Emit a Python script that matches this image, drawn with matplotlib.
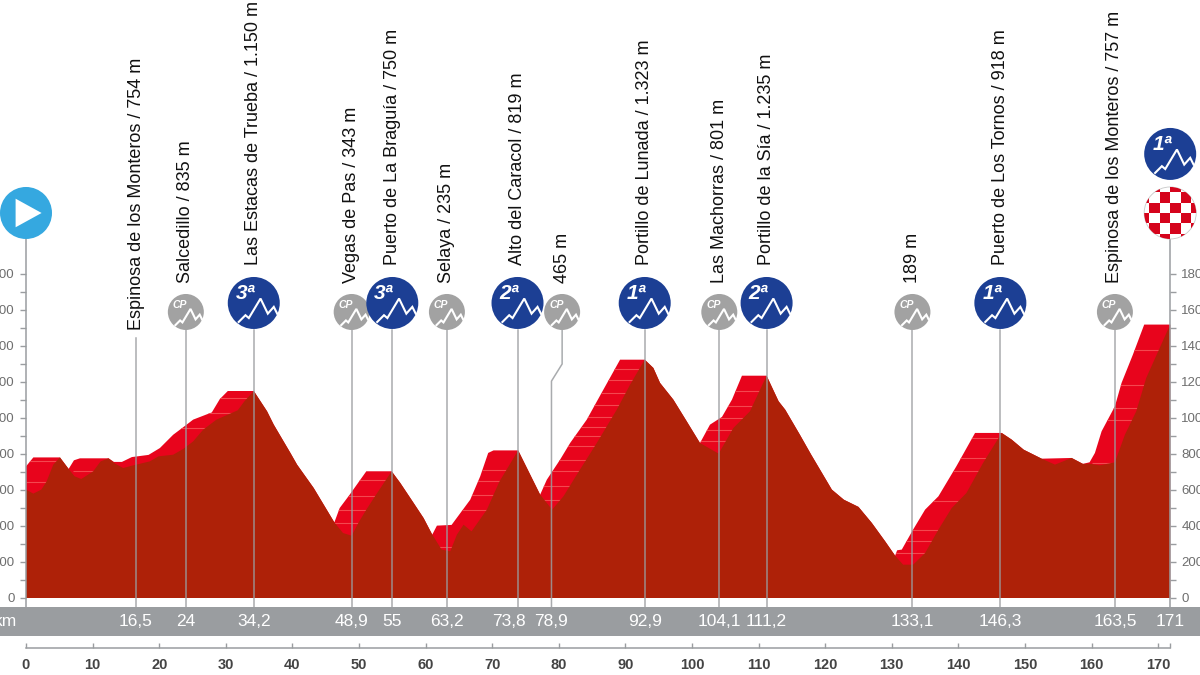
import matplotlib
matplotlib.use("Agg")
import matplotlib.pyplot as plt
from matplotlib.patches import Circle, Polygon, Rectangle
from matplotlib.transforms import Affine2D, ScaledTranslation

# profile outline (bright red climbs show between this and the base line)
top_km = [0, 1.1, 5.1, 6.4, 7.2, 8.1, 12.4, 13.2, 14.4, 15.9, 18.4, 20.1, 22.1, 23.9, 25.1, 27.9, 29.1,
          30.3, 34.2, 36.2, 37.2, 39.7, 40.7, 43.2, 46.3, 47.1, 48.6, 51.1, 54.9, 56.2, 58.2, 59.7, 61,
          61.7, 63.9, 65.4, 66.7, 68.2, 69.4, 70.2, 73.9, 77.2, 78.2, 80.2, 81.7, 84.2, 86.7, 89.2, 92.9,
          94.2, 95.2, 97.2, 99.2, 101.2, 102.7, 104.5, 106, 107.5, 111.2, 113, 114, 116.2, 117.9, 121,
          122.8, 125, 127, 129, 130.5, 130.8, 131.5, 133.2, 135, 137, 139.7, 142.5, 146.5, 148, 149.8,
          152.5, 157, 158.7, 159.7, 160.5, 161.5, 163.5, 164.5, 166.2, 167.9, 171.8]
top_m = [731, 781, 781, 717, 765, 776, 776, 756, 756, 783, 795, 833, 907, 957, 991, 1031, 1105,
         1150, 1150, 1037, 963, 806, 741, 611, 420, 500, 574, 704, 704, 639, 528, 444, 352,
         402, 406, 481, 546, 676, 806, 820, 820, 574, 657, 769, 861, 991, 1158, 1324, 1324,
         1278, 1195, 1102, 982, 861, 963, 1006, 1102, 1235, 1235, 1093, 1046, 907, 796, 602,
         546, 506, 417, 315, 235, 265, 269, 380, 491, 565, 732, 917, 917, 880, 824,
         774, 778, 745, 754, 806, 926, 1065, 1195, 1352, 1519, 1519]

base_km = [0, 1.1, 2.3, 3.1, 4.1, 5.1, 6.4, 7.3, 8.3, 10.1, 11.2, 12.4, 13.4, 14.6, 15.9, 18.6, 19.9, 22.1,
           23.6, 25.1, 26.6, 28.6, 31.8, 32.8, 34.2, 36.2, 37.2, 39.7, 40.7, 43.2, 46.3, 47.6, 48.9, 49.9,
           51.1, 52.4, 54.9, 56.2, 58.2, 59.7, 61, 62.4, 63.7, 64.7, 65.7, 66.9, 69.2, 71.1, 73.9, 77.2,
           79, 80.7, 82.7, 85.7, 88.7, 90.7, 92.9, 94.2, 95.2, 97.2, 99.2, 101.2, 104, 106.2, 108.7, 111.2,
           113, 114, 116.2, 117.9, 121, 122.8, 125, 127, 129, 130.5, 131.7, 133.2, 135, 137, 139, 141.2,
           143.7, 146.5, 148, 149.8, 152.5, 154.5, 157, 158.7, 159.7, 161.2, 163.5, 165, 166.7, 168.2, 171.8]
base_m = [602, 580, 602, 648, 741, 781, 717, 676, 661, 704, 759, 776, 746, 722, 735, 759, 787, 796,
          828, 870, 935, 991, 1043, 1093, 1150, 1037, 963, 806, 741, 611, 420, 361, 346, 417,
          491, 565, 704, 639, 528, 444, 352, 269, 259, 352, 407, 370, 491, 648, 820, 574,
          491, 565, 685, 861, 1046, 1185, 1324, 1278, 1195, 1102, 982, 861, 802, 944, 1037, 1235,
          1093, 1046, 907, 796, 602, 546, 506, 417, 315, 235, 185, 185, 250, 380, 500, 583,
          750, 917, 880, 824, 774, 741, 778, 745, 746, 737, 754, 907, 1037, 1222, 1519]

# pale gradient stripes inside each climb: start km, end km, heights
stripe_start = [0, 7, 15, 46, 61, 77, 101, 130, 160]
stripe_end = [5.2, 12, 34.2, 55, 74, 93, 111.2, 146.5, 171.8]
stripe_levels = [[643, 759], [704], [944, 1028, 1111], [417, 491, 565, 657],
                 [283, 487, 574, 648, 709],
                 [546, 620, 704, 765, 843, 898, 950, 1006, 1074, 1139, 1209, 1272],
                 [870, 935, 1000, 1069, 1148],
                 [250, 315, 380, 537, 704, 778, 889],
                 [750, 991, 1056, 1185, 1380]]

# passes along the route
pass_km = [16.5, 24, 34.2, 48.9, 55, 63.2, 73.8, 78.9, 92.9, 104.1, 111.2, 133.1, 146.3, 163.5]
pass_names = ["Espinosa de los Monteros / 754 m", "Salcedillo / 835 m", "Las Estacas de Trueba / 1.150 m",
              "Vegas de Pas / 343 m", "Puerto de La Braguía / 750 m", "Selaya / 235 m", "Alto del Caracol / 819 m",
              "465 m", "Portillo de Lunada / 1.323 m", "Las Machorras / 801 m", "Portillo de la Sía / 1.235 m",
              "189 m", "Puerto de Los Tornos / 918 m", "Espinosa de los Monteros / 757 m"]
pass_cat = ["", "CP", "3ª", "CP", "3ª", "CP", "2ª", "CP", "1ª", "CP", "2ª", "CP", "1ª", "CP"]
km_labels = ["16,5", "24", "34,2", "48,9", "55", "63,2", "73,8", "78,9", "92,9", "104,1", "111,2",
             "133,1", "146,3", "163,5"]
finish_km = 171.8
finish_label = "171"
finish_cat = "1ª"

dist_ticks = list(range(0, 171, 10))
alt_major = list(range(0, 1801, 200))
alt_minor = list(range(100, 1800, 200))

DARK = "#ae2108"
BRIGHT = "#e8041c"
GRAY = "#9a9da0"
BLUE = "#1c3f94"
SKY = "#35a8e0"
CP_GRAY = "#a2a2a2"

plt.rcParams["font.family"] = ["Liberation Sans", "DejaVu Sans"]

# 6.66 px per km with km 0 at x=26, 0.18 px per metre with 0 m at y=598
fig = plt.figure(figsize=(12, 6.75), dpi=100)
ax = fig.add_axes([0, 0, 1, 1])
ax.set_xlim(-26 / 6.66, (1200 - 26) / 6.66)
ax.set_ylim((598 - 675) / 0.18, 598 / 0.18)
ax.patch.set_visible(False)


def local(km, m, radius):
    return Affine2D().scale(radius) + ScaledTranslation(km, m, ax.transData)


def mountain(km, m, radius, label, size, zorder=6):
    tr = local(km, m, radius)
    xs = [-0.58, -0.32, -0.19, 0.26, 0.54, 0.77, 0.9]
    ys = [-0.73, -0.47, -0.58, 0.17, -0.41, -0.15, -0.41]
    ax.plot(xs, ys, color="white", lw=1.5, transform=tr, zorder=zorder, solid_joinstyle="miter")
    ax.text(-0.32, 0.36, label, color="white", fontsize=size, fontstyle="italic", fontweight="bold",
            ha="center", va="center", transform=tr, zorder=zorder)


# gray distance bar
ax.axhspan(-48, -211, color=GRAY, lw=0, zorder=1)
ax.text(-1.35, -128, "km", color="white", fontsize=12.5, ha="right", va="center", zorder=2)

# profile
bright = ax.fill(top_km + [finish_km, 0], top_m + [0, 0], color=BRIGHT, lw=0, zorder=2)[0]
for start, end, levels in zip(stripe_start, stripe_end, stripe_levels):
    lines = ax.hlines(levels, start, end, color="#f4474f", lw=0.8, zorder=2.1)
    lines.set_clip_path(bright)
ax.fill(base_km + [finish_km, 0], base_m + [0, 0], color=DARK, lw=0, zorder=2.2)

# axes
ax.spines["top"].set_visible(False)
ax.spines["left"].set_position(("data", 0))
ax.spines["right"].set_position(("data", finish_km))
ax.spines["bottom"].set_position(("data", -278))
ax.spines["left"].set_bounds(-48, 2139)
ax.spines["right"].set_bounds(-48, 2139)
ax.spines["bottom"].set_bounds(0, finish_km)
for side in ["left", "right", "bottom"]:
    ax.spines[side].set_color(GRAY)
    ax.spines[side].set_linewidth(1.1)
    ax.spines[side].set_zorder(2.5)

ax.set_yticks(alt_major)
ax.set_yticks(alt_minor, minor=True)
ax.set_xticks(dist_ticks + [finish_km], [str(d) for d in dist_ticks] + [""])
ax.tick_params(axis="y", which="both", left=True, right=True, labelleft=True, labelright=True,
               direction="out", color=GRAY, length=4.5, width=1, labelcolor="#6e6e6e", labelsize=9.5, pad=3.5)
ax.tick_params(axis="x", direction="in", color=GRAY, length=3.6, width=1, labelcolor="#444444", labelsize=10.5, pad=7)
for t in ax.get_xticklabels():
    t.set_fontweight("bold")

# pass markers
for km, name, cat, lab in zip(pass_km, pass_names, pass_cat, km_labels):
    is_kinked = name == "465 m"
    badge_km = 80.5 if is_kinked else km
    if cat == "":
        line_top, name_bottom = 1444, 1489
    elif cat == "CP":
        line_top, name_bottom = 1489, 1750
    else:
        line_top, name_bottom = 1489, 1850
    if is_kinked:
        ax.plot([badge_km, badge_km, km, km], [line_top, 1300, 1205, -48], color=GRAY, lw=1.1, alpha=0.85, zorder=3)
    else:
        ax.plot([km, km], [line_top, -48], color=GRAY, lw=1.1, alpha=0.85, zorder=3)

    if cat == "CP":
        ax.add_patch(Circle((0, 0), 1, color=CP_GRAY, lw=0, transform=local(badge_km, 1589, 18), zorder=5))
        mountain(badge_km, 1589, 18, "CP", 7.5)
    elif cat:
        ax.add_patch(Circle((0, 0), 1, color=BLUE, lw=0, transform=local(badge_km, 1639, 26), zorder=5))
        mountain(badge_km, 1639, 26, cat, 15)

    ax.text(badge_km + (0.1 if cat == "" else 0), name_bottom, name, rotation=90, ha="center", va="bottom",
            fontsize=13, color="#111111", zorder=6)
    # 73,8 sits left of its line in the reference so it clears 78,9
    label_x = km - 1.3 if lab == "73,8" else km
    ax.text(label_x, -128, lab, color="white", fontsize=12.5, ha="center", va="center", zorder=4)

ax.text(finish_km, -128, finish_label, color="white", fontsize=12.5, ha="center", va="center", zorder=4)

# start badge
ax.add_patch(Circle((0, 0), 1, color=SKY, lw=0, transform=local(0, 2139, 26), zorder=5))
ax.add_patch(Polygon([(-0.4, 0.55), (-0.4, -0.55), (0.6, 0)], color="white", lw=0,
                     transform=local(0, 2139, 26), zorder=6))

# finish: checkered circle and category badge
finish_tr = local(finish_km, 2139, 26)
disc = Circle((0, 0), 1, facecolor="white", edgecolor="#c8c8c8", lw=0.6, transform=finish_tr, zorder=5)
ax.add_patch(disc)
cell = 0.4
for i in range(-3, 3):
    for j in range(-3, 3):
        if (i + j) % 2 == 0:
            sq = Rectangle((i * cell + 0.2 - cell / 2, j * cell + 0.2 - cell / 2), cell, cell, facecolor="#d5041c",
                           lw=0, transform=finish_tr, zorder=5.5)
            ax.add_patch(sq)
            sq.set_clip_path(disc)
ax.add_patch(Circle((0, 0), 1, color=BLUE, lw=0, transform=local(finish_km, 2467, 26), zorder=5))
mountain(finish_km, 2467, 26, finish_cat, 15)

fig.savefig("out.png", dpi=100)
